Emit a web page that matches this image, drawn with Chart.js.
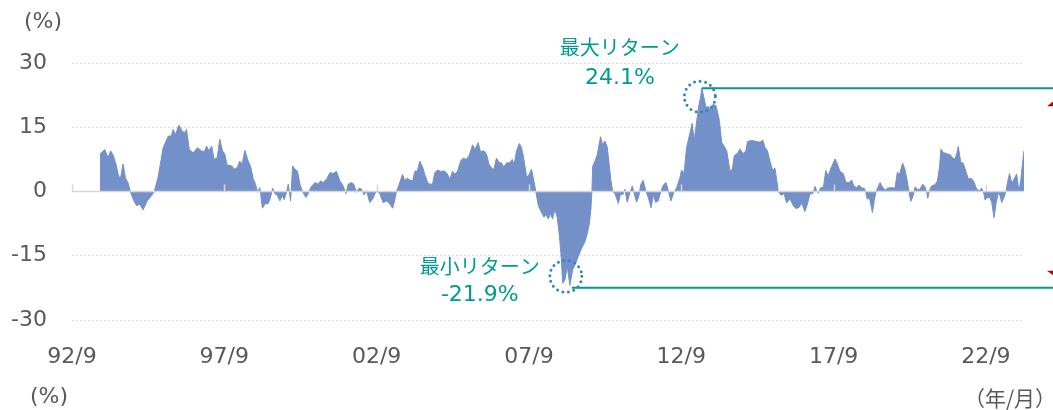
<!DOCTYPE html>
<html lang="ja">
<head>
<meta charset="utf-8">
<script src="https://cdn.jsdelivr.net/npm/chart.js@4.4.1/dist/chart.umd.min.js"></script>
<style>
  html, body { margin: 0; padding: 0; background: #fff; }
  #wrap { width: 1053px; height: 410px; }
</style>
</head>
<body>
<div id="wrap"><canvas id="chart" width="1053" height="410"></canvas></div>
<script>
// months counted from 1992/9, rolling return in %
const months = [
  11.0, 12.9, 14.2, 15.2, 16.2, 17.5, 18.4, 19.2, 20.1, 21.1, 22.1, 23.0, 24.1, 25.4, 26.7, 28.0, 29.6, 31.3, 32.4, 33.9,
  35.9, 37.9, 39.2, 39.8, 40.8, 42.1, 43.4, 44.4, 45.1, 46.2, 47.7, 49.4, 51.0, 52.1, 53.0, 53.9, 55.0, 56.0, 57.2, 58.2,
  59.3, 60.2, 61.1, 62.8, 64.1, 65.1, 66.1, 67.0, 68.1, 69.4, 70.3, 71.4, 72.3, 73.1, 74.0, 75.0, 76.0, 77.3, 78.2, 79.0,
  79.9, 80.8, 81.9, 82.8, 83.6, 84.5, 85.2, 86.1, 86.9, 87.8, 88.8, 89.8, 90.8, 92.1, 93.0, 94.0, 95.7, 97.0, 97.9, 98.9,
  100.3, 101.6, 102.9, 104.2, 105.5, 106.8, 107.9, 108.8, 110.1, 111.0, 112.1, 113.1, 114.1, 115.1, 116.0, 117.3, 118.6, 119.7, 121.0, 122.6,
  123.9, 125.2, 126.3, 127.2, 127.8, 128.9, 130.2, 131.1, 132.0, 133.4, 134.2, 135.1, 136.0, 137.0, 138.1, 139.0, 140.1, 141.0, 142.0, 142.9,
  144.0, 145.2, 146.5, 147.5, 148.9, 149.9, 150.8, 151.9, 153.1, 154.1, 155.4, 156.5, 157.8, 158.7, 160.0, 160.9, 162.3, 163.3, 164.2, 165.3,
  166.2, 167.2, 168.3, 169.2, 170.1, 171.2, 172.5, 173.4, 174.2, 175.1, 176.2, 177.1, 178.0, 179.1, 180.0, 181.0, 182.0, 182.7, 183.7, 184.7,
  185.9, 186.7, 187.6, 188.5, 189.3, 190.2, 191.1, 191.9, 192.6, 193.3, 194.2, 195.1, 196.1, 197.2, 198.4, 199.4, 200.7, 202.0, 203.0, 203.8,
  204.4, 204.8, 205.1, 206.0, 206.9, 207.6, 208.2, 209.0, 209.9, 210.8, 211.6, 212.3, 213.0, 213.9, 215.2, 216.1, 216.9, 217.8, 218.7, 219.8,
  220.7, 221.5, 222.4, 223.3, 224.1, 225.0, 226.0, 227.0, 228.1, 229.0, 229.9, 230.9, 232.0, 232.9, 234.0, 234.9, 235.9, 237.1, 238.2, 239.5,
  240.1, 241.1, 242.1, 243.2, 244.3, 245.1, 246.1, 247.0, 247.6, 248.1, 248.9, 249.7, 250.6, 251.6, 252.6, 253.7, 255.0, 255.9, 256.8, 257.9,
  259.2, 260.1, 260.9, 262.1, 263.1, 264.4, 265.4, 266.1, 267.7, 269.4, 271.0, 272.1, 273.0, 273.9, 274.9, 276.0, 276.9, 277.6, 278.2, 279.3,
  280.5, 281.5, 282.8, 284.1, 285.2, 286.4, 287.4, 288.7, 289.7, 290.7, 291.8, 292.7, 293.3, 294.0, 294.9, 296.0, 296.9, 297.9, 299.2, 300.6,
  301.5, 302.5, 303.8, 304.9, 306.2, 307.1, 308.0, 309.1, 310.0, 311.1, 312.0, 312.6, 313.3, 314.1, 315.3, 316.0, 316.7, 317.4, 318.3, 319.2,
  320.3, 321.3, 322.9, 324.2, 325.1, 325.9, 327.2, 328.1, 329.0, 329.7, 330.4, 331.2, 332.1, 333.0, 334.0, 335.1, 336.0, 336.7, 337.1, 337.7,
  338.6, 340.0, 340.9, 341.7, 342.3, 343.2, 344.6, 345.9, 346.9, 347.8, 348.5, 349.1, 350.1, 351.1, 352.2, 353.1, 354.1, 355.1, 356.4, 357.4,
  358.3, 359.0, 359.7, 360.6, 361.6, 362.3, 363.2, 364.0, 364.9, 365.6, 366.2, 367.1, 367.9, 368.5, 369.3, 370.2, 371.1, 372.1, 373.0, 373.7,
  374.3, 375.0
];
const returns = [
  8.7, 9.8, 7.9, 9.5, 8.5, 6.0, 3.4, 3.4, 6.4, 3.1, 2.0, 0, -1.8, -3.3, -3.0, -4.3, -2.2, -1.0, 0, 3.3,
  10.2, 12.9, 13.0, 14.5, 13.3, 15.5, 14.1, 13.7, 14.5, 9.8, 9.0, 10.2, 9.5, 9.3, 10.6, 9.5, 10.6, 7.5, 7.9, 12.2,
  9.5, 8.7, 6.2, 6.0, 5.2, 5.6, 7.1, 6.4, 9.6, 7.1, 6.0, 2.9, 1.7, -0.2, 0.9, -3.9, -2.9, -2.8, -1.4, 0.8,
  -0.5, -0.8, -2.2, -1.0, -1.9, -0.2, 1.7, -2.2, 6.0, 5.2, 4.8, 1.7, 0, -1.4, -0.6, 0.9, 2.1, 1.7, 2.5, 2.1,
  2.9, 4.4, 4.2, 4.7, 2.5, 1.3, -0.5, 1.7, 2.1, 1.7, -0.2, 0.8, 0.5, -0.8, 0.2, -2.6, -1.6, 0, -0.2, -2.6,
  -2.2, -2.9, -3.9, -1.8, 0, 1.7, 4.0, 2.5, 3.1, 2.6, 2.5, 4.8, 4.7, 7.1, 5.7, 3.9, 2.1, 1.7, 1.7, 4.4,
  5.0, 4.7, 4.8, 4.4, 2.9, 4.7, 4.0, 4.8, 7.1, 7.8, 7.5, 8.5, 10.9, 9.8, 11.4, 9.3, 9.5, 8.7, 6.5, 5.4,
  5.2, 7.8, 6.7, 6.7, 5.7, 6.7, 6.7, 7.5, 6.4, 9.5, 11.2, 10.2, 7.5, 3.3, 3.9, 5.2, 2.3, 0, -3.3, -4.6,
  -6.0, -5.4, -6.4, -5.2, -6.4, -4.1, -6.0, -9.8, -14.5, -21.4, -20.6, -17.5, -21.9, -18.3, -16.8, -15.2, -13.3, -11.8, -9.8, -7.5,
  -4.1, 0, 5.9, 7.1, 8.6, 10.9, 12.8, 10.9, 11.8, 10.5, 6.3, 2.5, 0, -0.5, -2.8, -0.5, -0.8, 0.5, -2.5, -0.2,
  1.3, -0.6, -2.5, -1.0, 1.7, 2.6, 0.2, -1.4, -3.8, -0.8, -2.5, -2.2, 0, 1.5, 2.1, 0.2, -2.2, -0.2, 0.9, 3.3,
  5.0, 4.3, 10.3, 13.1, 15.9, 11.9, 16.6, 20.4, 22.0, 24.1, 22.0, 19.7, 19.8, 19.3, 20.4, 20.0, 16.6, 11.5, 10.7, 9.5,
  4.7, 5.3, 8.4, 8.9, 9.9, 8.9, 9.4, 11.7, 11.9, 11.7, 11.5, 12.0, 10.3, 9.6, 7.2, 4.9, 5.5, 2.6, 0, -0.9,
  -0.5, -2.7, -1.7, -3.3, -4.0, -3.7, -2.7, -4.7, -2.9, -0.5, -0.5, 1.2, 0.2, -0.4, 0.9, 1.0, 4.9, 3.7, 5.8, 7.6,
  6.4, 4.7, 4.2, 2.1, 2.1, 2.7, 1.3, 0.9, 1.5, 0.8, 0.8, 0, -1.8, -1.4, -4.9, -2.2, 0, 0.9, 2.1, 1.1,
  0.3, 0.8, 0.9, 0.8, 4.5, 3.9, 6.6, 5.2, 2.5, 0, -2.3, -1.3, 1.1, 0.5, 0.5, 1.7, 1.1, -0.2, -1.6, 0.2,
  1.3, 1.6, 2.5, 5.6, 9.9, 9.1, 8.8, 8.6, 7.8, 7.6, 8.8, 10.5, 6.8, 6.6, 4.5, 2.9, 3.1, 2.5, 0.5, 0.2,
  0.8, 0, -2.0, -1.4, -1.4, -2.6, -6.1, -2.8, -0.2, -1.0, -2.6, -1.4, 0, 2.1, 4.2, 1.9, 2.9, 4.1, 0, 2.5,
  6.0, 9.5
];
const tickMonths = [0, 60, 120, 180, 240, 300, 360];
const tickLabels = ['92/9', '97/9', '02/9', '07/9', '12/9', '17/9', '22/9'];
const maxReturn = 24.1;
const minReturn = -21.9;

const gray = '#595959';
const teal = '#009a93';
const circleBlue = '#2e86c1';
const numFont = "'DejaVu Sans', 'Noto Sans CJK JP', sans-serif";
const jpFont = "'Noto Sans CJK JP', 'DejaVu Sans', sans-serif";

function dottedCircle(ctx, cx, cy, r) {
  ctx.save();
  ctx.strokeStyle = circleBlue;
  ctx.lineWidth = 3;
  ctx.lineCap = 'round';
  ctx.setLineDash([0, 5.6]);
  ctx.beginPath();
  ctx.arc(cx, cy, r, 0, Math.PI * 2);
  ctx.stroke();
  ctx.restore();
}

const overlay = {
  id: 'overlay',
  afterDatasetsDraw(chart) {
    const { ctx, chartArea: area, scales: { x, y } } = chart;
    const zeroY = y.getPixelForValue(0);
    ctx.save();
    // zero line and the small tick marks sitting on it
    ctx.strokeStyle = '#d6d6d6';
    ctx.lineWidth = 1.5;
    ctx.beginPath();
    ctx.moveTo(area.left, zeroY);
    ctx.lineTo(area.right, zeroY);
    tickMonths.forEach(m => {
      const px = Math.round(x.getPixelForValue(m)) + 0.5;
      ctx.moveTo(px, zeroY);
      ctx.lineTo(px, zeroY - 7);
    });
    ctx.stroke();

    // max / min markers
    const iMax = returns.indexOf(maxReturn);
    const iMin = returns.indexOf(minReturn);
    const maxX = x.getPixelForValue(months[iMax]), maxY = y.getPixelForValue(maxReturn);
    const minX = x.getPixelForValue(months[iMin]), minY = y.getPixelForValue(minReturn);

    ctx.strokeStyle = teal;
    ctx.lineWidth = 2;
    ctx.beginPath();
    ctx.moveTo(maxX, maxY);
    ctx.lineTo(chart.width, maxY);
    ctx.moveTo(minX + 2, minY + 2.5);
    ctx.lineTo(chart.width, minY + 2.5);
    ctx.stroke();

    dottedCircle(ctx, maxX - 2, maxY + 8.4, 15.5);
    dottedCircle(ctx, minX - 4, minY - 9, 16);

    ctx.fillStyle = teal;
    ctx.textAlign = 'center';
    ctx.textBaseline = 'middle';
    ctx.font = '20px ' + jpFont;
    ctx.fillText('最大リターン', maxX - 82, maxY - 41);
    ctx.fillText('最小リターン', minX - 90, minY - 18.5);
    ctx.font = '22px ' + numFont;
    ctx.fillText(maxReturn.toFixed(1) + '%', maxX - 82, maxY - 9.6);
    ctx.fillText(minReturn.toFixed(1) + '%', minX - 90, minY + 10);

    // red arrow heads cut off at the right edge
    const ax = chart.width + 3;
    ctx.fillStyle = '#c00000';
    ctx.beginPath();
    ctx.moveTo(ax, y.getPixelForValue(21.6));
    ctx.lineTo(ax - 9, y.getPixelForValue(19.9));
    ctx.lineTo(ax + 9, y.getPixelForValue(19.9));
    ctx.closePath();
    ctx.fill();
    ctx.beginPath();
    ctx.moveTo(ax, y.getPixelForValue(-20.1));
    ctx.lineTo(ax - 9, y.getPixelForValue(-18.5));
    ctx.lineTo(ax + 9, y.getPixelForValue(-18.5));
    ctx.closePath();
    ctx.fill();
    ctx.restore();
  },
  afterDraw(chart) {
    const ctx = chart.ctx;
    ctx.save();
    ctx.fillStyle = gray;
    ctx.textAlign = 'center';
    ctx.textBaseline = 'middle';
    ctx.font = '22px ' + numFont;
    ctx.fillText('(%)', 43, 22);
    ctx.fillText('(%)', 49, 397);
    ctx.font = '21px ' + jpFont;
    ctx.fillText('（年/月）', 1010, 398);
    ctx.restore();
  }
};

new Chart(document.getElementById('chart'), {
  type: 'line',
  data: {
    datasets: [{
      data: months.map((m, i) => ({ x: m, y: returns[i] })),
      fill: 'origin',
      backgroundColor: '#7490c9',
      borderColor: '#7490c9',
      borderWidth: 1,
      pointRadius: 0,
      tension: 0
    }]
  },
  options: {
    responsive: false,
    animation: false,
    devicePixelRatio: 1,
    layout: { padding: { top: 63, right: 29, left: 0, bottom: 0 } },
    plugins: { legend: { display: false }, tooltip: { enabled: false } },
    scales: {
      x: {
        type: 'linear',
        min: 0,
        max: months[months.length - 1],
        afterBuildTicks: s => { s.ticks = tickMonths.map(v => ({ value: v })); },
        afterFit: s => { s.height = 90; },
        grid: { display: false, drawTicks: false },
        border: { display: false },
        ticks: {
          autoSkip: false,
          maxRotation: 0,
          padding: 24,
          color: gray,
          font: { family: numFont, size: 22 },
          callback: (v, i) => tickLabels[i]
        }
      },
      y: {
        min: -30,
        max: 30,
        afterFit: s => { s.width = 72; },
        grid: {
          color: c => c.tick && c.tick.value === 0 ? 'rgba(0,0,0,0)' : '#d9d9d9',
          lineWidth: 1,
          drawTicks: false
        },
        border: { display: false, dash: [2, 2] },
        ticks: {
          stepSize: 15,
          padding: 25,
          color: gray,
          font: { family: numFont, size: 22 }
        }
      }
    }
  },
  plugins: [overlay]
});
</script>
</body>
</html>
